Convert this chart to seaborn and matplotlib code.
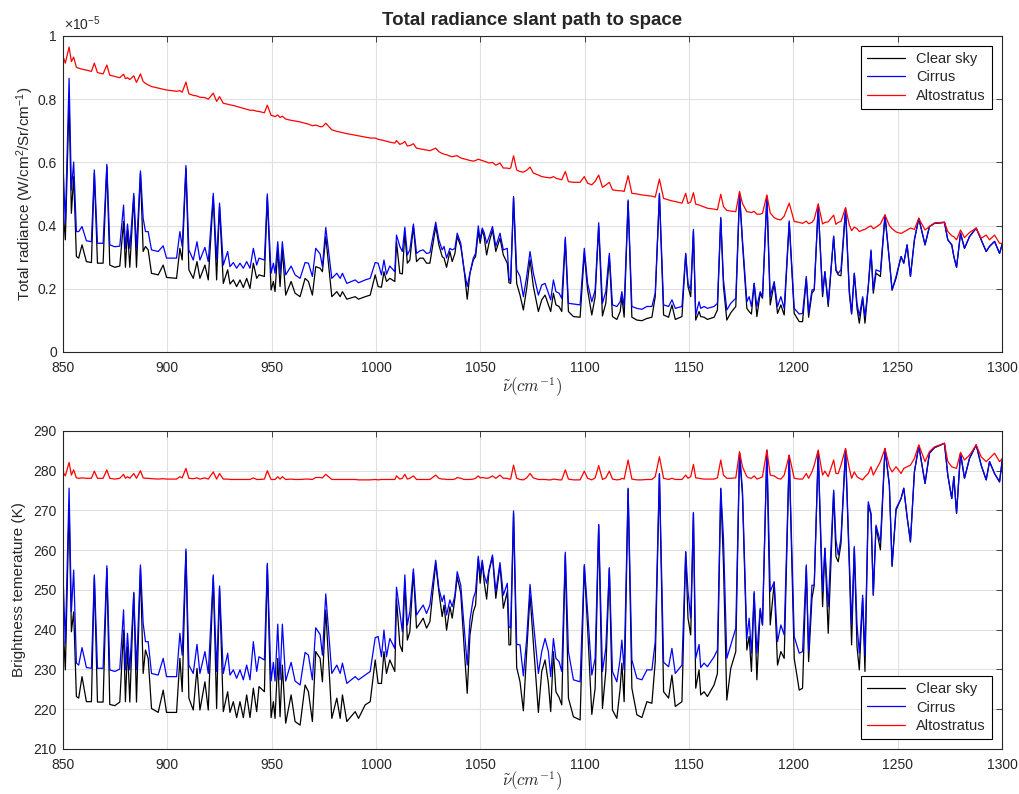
import matplotlib
matplotlib.use("Agg")
import matplotlib.pyplot as plt
import matplotlib.ticker as mticker
import pandas as pd
import seaborn as sns

# wavenumber grid (cm^-1), shared by both panels
nu = [
    850.0, 851.1, 852.9, 854.0, 855.1, 856.4, 857.5, 859.1, 861.2, 863.6,
    865.0, 866.5, 869.2, 871.0, 872.4, 874.8, 877.2, 879.0, 879.9, 880.9,
    882.0, 883.9, 885.2, 887.1, 888.4, 889.5, 890.8, 892.4, 895.6, 898.0,
    899.6, 904.4, 906.0, 907.1, 908.9, 910.3, 912.4, 914.2, 915.6, 918.0,
    919.6, 922.0, 923.6, 925.0, 926.8, 928.9, 930.0, 931.6, 933.2, 934.8,
    936.4, 938.0, 939.6, 941.2, 942.8, 943.9, 946.5, 947.9, 949.7, 950.8,
    951.6, 952.9, 954.0, 955.1, 956.7, 959.3, 961.2, 963.6, 966.0, 967.6,
    969.5, 971.1, 973.2, 974.3, 975.9, 978.8, 981.2, 982.8, 983.9, 986.0,
    990.0, 991.6, 994.8, 997.2, 999.6,
    1001.0, 1002.6, 1003.8, 1005.0, 1006.6, 1009.0, 1009.8, 1011.4, 1012.6, 1013.8,
    1015.0, 1016.2, 1017.9, 1019.4, 1021.0, 1022.6, 1024.2, 1025.8, 1028.6, 1030.1,
    1031.7, 1032.6, 1033.8, 1035.4, 1036.5, 1037.8, 1038.9, 1040.6, 1042.2, 1043.7,
    1045.0, 1046.6, 1047.7, 1049.0, 1049.9, 1050.9, 1051.8, 1053.0, 1054.1, 1055.8,
    1057.4, 1059.4, 1061.0, 1062.9, 1063.7, 1064.5, 1065.9, 1067.4, 1069.0, 1070.6,
    1072.2, 1073.8, 1075.4, 1077.8, 1079.4, 1081.0, 1082.6, 1083.7, 1085.0, 1086.2,
    1087.7, 1089.0, 1090.7, 1092.2, 1094.6, 1097.8, 1099.8, 1101.4, 1103.4, 1105.0,
    1106.7, 1108.5, 1110.1, 1111.8, 1113.3, 1115.4, 1117.0, 1117.8, 1118.9, 1120.8,
    1122.6, 1125.0, 1127.4, 1129.8, 1132.2, 1133.8, 1135.8, 1137.8, 1140.2, 1141.8,
    1143.4, 1146.6,
    1148.4, 1149.5, 1150.8, 1152.1, 1153.2, 1154.8, 1155.6, 1157.2, 1158.8, 1162.0,
    1163.6, 1165.2, 1166.5, 1168.1, 1170.0, 1172.4, 1174.2, 1175.6, 1177.7, 1178.8,
    1179.9, 1181.2, 1182.5, 1184.1, 1185.2, 1187.3, 1188.9, 1190.8, 1192.4, 1194.0,
    1195.6, 1198.0, 1200.4, 1202.8, 1204.4, 1206.2, 1207.3, 1208.9, 1210.0, 1211.9,
    1214.0, 1215.1, 1216.7, 1219.3, 1220.4, 1221.5, 1222.8, 1225.0, 1226.8, 1227.9,
    1229.2, 1230.5, 1231.6, 1233.2, 1234.3, 1235.9, 1237.2, 1238.3, 1239.6, 1241.7,
    1243.9, 1246.0, 1247.3, 1249.2, 1251.6, 1252.9, 1254.5, 1256.1, 1258.0, 1260.1,
    1263.1, 1265.2, 1267.6, 1272.4, 1274.0, 1275.9, 1276.9, 1278.2, 1280.1, 1282.0,
    1284.4, 1287.6, 1290.0, 1292.4, 1294.0, 1296.4, 1298.8, 1300.2,
]

# total radiance, in units of 1e-5 W/cm2/Sr/cm-1
rad_clear = [
    .450, .355, .800, .439, .555, .302, .297, .339, .286, .283,
    .566, .281, .281, .587, .275, .268, .272, .413, .268, .386,
    .268, .492, .268, .566, .318, .334, .323, .249, .244, .275,
    .236, .233, .328, .291, .581, .260, .233, .286, .233, .275,
    .228, .492, .228, .460, .217, .260, .215, .228, .207, .228,
    .204, .233, .201, .281, .233, .244, .239, .492, .196, .223,
    .191, .323, .207, .323, .180, .223, .186, .175, .233, .223,
    .180, .270, .265, .254, .365, .175, .191, .175, .191, .167,
    .175, .167, .175, .180, .244,
    .207, .205, .254, .223, .233, .223, .349, .249, .247, .376,
    .281, .291, .397, .286, .297, .297, .281, .281, .397, .339,
    .302, .297, .268, .318, .286, .312, .365, .334, .260, .167,
    .249, .291, .302, .381, .344, .386, .365, .307, .344, .386,
    .318, .360, .307, .281, .219, .217, .487, .217, .180, .133,
    .202, .292, .207, .128, .165, .180, .149, .128, .186, .149,
    .144, .128, .355, .128, .112, .110, .312, .196, .117, .175,
    .397, .114, .154, .302, .112, .103, .128, .175, .110, .476,
    .110, .101, .099, .106, .110, .175, .497, .117, .110, .149,
    .103, .112,
    .310, .207, .175, .381, .101, .128, .112, .110, .103, .110,
    .133, .423, .207, .101, .124, .144, .500, .344, .138, .128,
    .120, .217, .112, .186, .170, .490, .149, .217, .122, .149,
    .117, .410, .122, .096, .096, .233, .110, .186, .196, .460,
    .175, .254, .144, .365, .258, .244, .241, .450, .186, .120,
    .249, .138, .091, .170, .091, .207, .318, .186, .249, .239,
    .431, .289, .196, .233, .302, .281, .339, .239, .355, .423,
    .339, .397, .407, .410, .355, .339, .302, .268, .376, .328,
    .365, .392, .355, .318, .334, .350, .312, .344,
]
rad_cirrus = [
    .597, .407, .866, .513, .601, .381, .381, .397, .352, .349,
    .576, .344, .344, .594, .339, .333, .335, .465, .328, .405,
    .328, .502, .328, .573, .423, .381, .381, .323, .318, .336,
    .297, .297, .381, .334, .590, .323, .291, .349, .291, .331,
    .286, .502, .291, .471, .275, .318, .270, .283, .265, .281,
    .265, .286, .265, .328, .275, .297, .291, .500, .249, .281,
    .249, .349, .249, .349, .244, .272, .244, .233, .283, .281,
    .239, .328, .310, .270, .394, .233, .249, .233, .249, .217,
    .228, .219, .228, .233, .283,
    .281, .244, .291, .246, .272, .254, .370, .334, .318, .395,
    .307, .323, .405, .312, .320, .323, .312, .314, .411, .355,
    .323, .334, .297, .328, .323, .328, .376, .344, .260, .207,
    .249, .297, .312, .399, .355, .392, .378, .344, .363, .397,
    .334, .376, .323, .328, .233, .223, .492, .260, .239, .175,
    .239, .318, .249, .180, .212, .217, .186, .165, .228, .191,
    .186, .170, .363, .154, .152, .149, .328, .217, .159, .196,
    .409, .154, .191, .312, .149, .144, .159, .191, .144, .481,
    .144, .138, .135, .144, .144, .186, .502, .149, .144, .165,
    .138, .144,
    .312, .217, .196, .388, .117, .159, .138, .144, .138, .144,
    .154, .426, .228, .133, .154, .170, .504, .355, .159, .175,
    .144, .217, .144, .191, .175, .494, .175, .223, .144, .175,
    .138, .415, .138, .120, .122, .239, .124, .196, .198, .465,
    .186, .254, .154, .367, .260, .249, .260, .455, .196, .122,
    .249, .154, .114, .175, .112, .207, .323, .196, .260, .254,
    .434, .291, .196, .239, .302, .281, .339, .239, .355, .423,
    .339, .397, .407, .410, .355, .339, .302, .268, .376, .328,
    .365, .392, .355, .318, .334, .350, .312, .344,
]
rad_alto = [
    .935, .914, .965, .919, .933, .901, .898, .895, .892, .888,
    .914, .884, .880, .908, .876, .872, .868, .879, .865, .868,
    .862, .874, .853, .880, .856, .850, .845, .840, .835, .831,
    .829, .825, .827, .822, .854, .817, .812, .810, .806, .805,
    .800, .819, .793, .808, .787, .784, .782, .780, .777, .774,
    .771, .768, .765, .765, .762, .761, .757, .781, .749, .747,
    .745, .750, .742, .746, .737, .733, .731, .728, .724, .721,
    .716, .718, .713, .713, .724, .703, .698, .696, .694, .691,
    .686, .684, .680, .677, .677,
    .673, .671, .669, .667, .664, .661, .669, .657, .660, .666,
    .652, .653, .659, .645, .643, .641, .639, .637, .645, .634,
    .628, .626, .624, .620, .618, .620, .621, .614, .611, .608,
    .606, .604, .606, .610, .608, .606, .604, .601, .598, .600,
    .591, .598, .582, .582, .580, .582, .621, .576, .571, .569,
    .575, .585, .566, .560, .555, .553, .552, .551, .555, .550,
    .547, .545, .571, .539, .537, .537, .555, .534, .529, .540,
    .560, .521, .528, .537, .513, .511, .510, .510, .508, .558,
    .502, .500, .497, .495, .493, .490, .547, .486, .481, .478,
    .476, .471,
    .502, .470, .475, .504, .468, .465, .463, .459, .455, .452,
    .450, .499, .460, .448, .446, .444, .508, .470, .444, .443,
    .441, .445, .436, .436, .439, .497, .440, .425, .420, .418,
    .430, .471, .413, .410, .407, .414, .406, .410, .420, .469,
    .405, .410, .412, .433, .404, .410, .413, .457, .402, .384,
    .395, .390, .381, .386, .388, .395, .399, .390, .395, .405,
    .434, .400, .390, .380, .375, .380, .386, .392, .388, .423,
    .386, .397, .408, .411, .381, .368, .365, .355, .386, .362,
    .378, .392, .360, .370, .355, .370, .344, .344,
]

# brightness temperature (K)
bt_clear = [
    241.2, 229.9, 271.4, 239.5, 244.5, 223.2, 222.8, 228.2, 221.9, 221.9,
    253.3, 221.8, 221.8, 255.4, 221.2, 220.9, 221.8, 239.9, 221.9, 235.7,
    221.8, 249.2, 221.8, 255.4, 229.0, 234.9, 232.8, 220.2, 219.2, 224.8,
    219.2, 219.2, 232.8, 224.4, 259.6, 222.8, 219.8, 230.3, 219.8, 226.9,
    219.8, 253.3, 220.2, 250.4, 219.4, 224.4, 219.2, 221.9, 217.9, 221.9,
    217.9, 223.6, 217.9, 225.3, 219.4, 225.7, 224.4, 256.3, 217.9, 221.9,
    217.7, 232.8, 218.1, 231.1, 216.5, 223.6, 216.9, 216.0, 226.1, 224.4,
    216.9, 234.5, 232.8, 226.9, 245.0, 217.7, 222.8, 217.7, 223.6, 216.9,
    219.4, 217.7, 221.1, 221.9, 232.4,
    226.5, 226.5, 234.5, 229.0, 232.4, 229.5, 247.9, 236.2, 234.5, 252.1,
    237.4, 239.5, 254.6, 240.4, 241.6, 242.9, 240.4, 242.0, 256.7, 249.6,
    243.3, 246.2, 239.9, 245.8, 242.9, 247.9, 253.3, 249.2, 235.7, 224.0,
    238.7, 244.5, 246.2, 258.0, 251.7, 257.1, 252.1, 247.7, 254.6, 258.4,
    247.9, 256.3, 245.4, 249.6, 236.2, 236.2, 269.3, 230.5, 226.9, 219.6,
    234.5, 248.7, 236.6, 219.2, 229.5, 232.4, 226.5, 219.4, 234.5, 224.4,
    223.0, 221.1, 258.8, 222.8, 218.1, 217.3, 255.9, 240.4, 218.7, 225.3,
    266.3, 220.2, 229.5, 255.4, 219.8, 217.7, 225.3, 231.6, 221.9, 275.4,
    225.3, 218.6, 217.9, 221.9, 221.5, 232.0, 279.2, 224.4, 222.8, 228.6,
    220.7, 221.9,
    259.6, 242.9, 238.7, 269.3, 225.3, 229.9, 223.6, 224.4, 223.2, 226.1,
    229.0, 275.4, 256.3, 222.3, 230.3, 234.5, 284.4, 273.9, 234.9, 238.3,
    229.5, 249.2, 227.4, 245.0, 241.2, 284.9, 241.2, 251.7, 231.1, 234.5,
    232.8, 283.8, 232.8, 224.8, 225.3, 255.9, 232.0, 247.9, 251.2, 284.8,
    245.8, 260.5, 239.1, 274.7, 258.4, 257.1, 261.7, 285.2, 255.9, 236.2,
    260.5, 235.7, 229.9, 247.9, 229.5, 271.4, 268.9, 248.7, 265.9, 260.1,
    285.4, 276.4, 255.9, 270.1, 273.0, 275.6, 268.4, 262.1, 279.7, 286.3,
    276.8, 284.4, 285.8, 286.9, 278.9, 273.0, 278.5, 269.3, 284.4, 278.1,
    283.1, 286.5, 281.4, 277.7, 282.3, 279.3, 277.2, 283.1,
]
bt_cirrus = [
    253.8, 236.6, 275.6, 244.5, 255.0, 231.6, 231.1, 235.5, 230.5, 230.3,
    253.8, 230.3, 230.3, 256.1, 229.9, 229.5, 230.1, 245.0, 229.9, 239.1,
    229.9, 249.4, 229.9, 256.3, 241.6, 237.0, 237.0, 229.0, 228.6, 232.8,
    228.2, 228.2, 239.1, 233.6, 260.3, 231.1, 229.0, 236.3, 229.0, 234.5,
    229.0, 253.8, 229.5, 251.0, 229.0, 234.1, 228.6, 229.9, 227.8, 229.9,
    227.4, 231.1, 227.4, 237.0, 229.5, 233.2, 232.4, 256.7, 227.1, 231.8,
    227.1, 241.4, 227.4, 241.4, 227.1, 231.8, 227.1, 226.1, 234.3, 233.6,
    227.4, 240.5, 238.8, 233.6, 249.0, 229.0, 231.1, 229.0, 231.6, 226.5,
    228.2, 227.4, 228.6, 229.5, 238.0,
    238.3, 233.2, 239.9, 233.2, 237.8, 235.3, 250.7, 244.5, 239.5, 253.8,
    241.2, 244.5, 255.3, 243.7, 245.0, 246.2, 244.1, 246.2, 257.5, 250.4,
    247.1, 248.7, 243.7, 247.5, 245.8, 248.7, 254.6, 251.2, 240.8, 231.1,
    242.4, 247.9, 249.6, 258.5, 253.8, 257.5, 253.8, 251.7, 255.0, 258.8,
    249.6, 256.9, 248.7, 251.7, 240.8, 240.4, 269.9, 236.3, 236.2, 228.4,
    237.8, 251.4, 242.0, 229.0, 234.5, 237.8, 234.5, 228.2, 237.8, 232.8,
    232.0, 229.5, 259.5, 234.5, 227.4, 226.9, 256.4, 244.5, 228.6, 232.8,
    266.5, 229.5, 235.3, 255.6, 229.5, 226.9, 232.8, 237.4, 229.9, 275.6,
    232.4, 227.8, 227.4, 229.9, 229.9, 237.0, 279.3, 231.8, 230.7, 235.3,
    229.0, 231.1,
    259.6, 249.6, 242.9, 269.5, 232.8, 236.3, 230.5, 231.6, 230.7, 233.2,
    234.9, 275.6, 263.0, 232.8, 236.2, 240.4, 284.4, 275.1, 237.8, 242.9,
    234.1, 249.6, 234.1, 245.4, 241.2, 285.2, 249.6, 252.1, 237.0, 241.2,
    238.7, 283.9, 238.3, 234.1, 234.5, 256.3, 234.5, 251.2, 251.2, 284.9,
    249.6, 260.5, 245.8, 275.1, 262.6, 258.8, 263.0, 285.4, 258.0, 241.2,
    260.9, 241.2, 234.1, 248.7, 233.6, 272.2, 269.3, 248.7, 266.3, 262.1,
    285.6, 276.4, 256.3, 270.5, 273.0, 275.6, 268.4, 262.1, 279.7, 286.3,
    276.8, 284.4, 285.8, 286.9, 278.9, 273.0, 278.5, 269.3, 284.4, 278.1,
    283.1, 286.5, 281.4, 277.7, 282.3, 279.3, 277.2, 283.1,
]
bt_alto = [
    279.7, 278.7, 282.1, 278.9, 280.2, 278.2, 278.1, 278.2, 278.1, 278.1,
    279.9, 278.1, 278.1, 280.2, 278.1, 277.9, 278.1, 279.1, 278.1, 278.5,
    278.1, 279.3, 278.1, 280.0, 278.2, 278.1, 278.1, 278.0, 277.9, 278.0,
    277.9, 277.9, 278.5, 278.2, 280.6, 278.1, 278.0, 278.2, 277.9, 278.2,
    277.9, 279.7, 277.9, 279.3, 277.9, 277.9, 277.8, 277.8, 277.8, 277.8,
    277.8, 277.8, 277.8, 278.2, 277.8, 277.8, 277.9, 280.0, 277.8, 277.8,
    277.8, 278.5, 277.9, 278.5, 277.8, 277.9, 277.8, 277.8, 277.9, 277.9,
    277.8, 278.3, 278.3, 278.2, 279.1, 277.8, 277.8, 277.8, 277.8, 277.8,
    277.8, 277.7, 277.7, 277.7, 277.8,
    277.7, 277.8, 277.8, 277.8, 277.8, 277.8, 278.7, 277.9, 278.1, 279.1,
    277.9, 278.1, 278.7, 277.8, 277.8, 277.8, 277.8, 277.8, 278.9, 278.1,
    277.9, 277.9, 277.8, 277.8, 277.8, 277.9, 278.3, 278.1, 277.8, 277.8,
    277.8, 277.9, 278.1, 278.7, 278.2, 278.3, 278.2, 278.1, 278.2, 278.7,
    278.1, 278.9, 278.1, 278.1, 277.9, 277.9, 281.4, 278.1, 277.8, 277.7,
    278.2, 279.3, 278.2, 277.8, 277.8, 277.8, 277.7, 277.7, 277.9, 277.8,
    277.7, 277.7, 280.2, 277.9, 277.7, 277.7, 279.9, 278.1, 277.7, 278.2,
    281.3, 277.8, 278.2, 279.9, 277.9, 277.7, 277.8, 278.1, 277.9, 282.7,
    277.9, 277.7, 277.7, 277.8, 277.8, 278.5, 283.5, 278.1, 277.8, 278.1,
    277.8, 277.8,
    278.9, 278.1, 278.5, 281.6, 278.2, 278.1, 278.0, 277.9, 277.9, 277.9,
    278.2, 282.7, 278.9, 278.1, 278.1, 278.2, 284.8, 281.0, 278.5, 278.2,
    278.1, 278.7, 277.9, 278.2, 278.5, 285.2, 278.9, 278.7, 278.1, 277.9,
    278.9, 283.9, 278.1, 277.9, 277.9, 279.3, 278.1, 279.7, 281.4, 285.2,
    278.9, 279.9, 278.5, 282.7, 279.3, 279.3, 281.4, 285.6, 280.6, 278.1,
    279.7, 278.5, 278.1, 277.7, 278.5, 279.3, 281.0, 278.9, 280.2, 282.3,
    285.6, 281.0, 279.7, 281.0, 279.3, 280.6, 281.0, 281.4, 283.1, 286.5,
    282.3, 284.8, 286.0, 286.9, 282.3, 281.0, 280.8, 280.6, 284.6, 282.7,
    283.9, 286.5, 283.5, 282.3, 283.1, 284.4, 282.3, 283.1,
]

case_names = ["Clear sky", "Cirrus", "Altostratus"]
case_colors = {"Clear sky": "black", "Cirrus": "blue", "Altostratus": "red"}


def long_frame(columns):
    parts = []
    for name, vals in zip(case_names, columns):
        assert len(vals) == len(nu), (name, len(vals), len(nu))
        parts.append(pd.DataFrame({"nu": nu, "value": vals, "case": name}))
    return pd.concat(parts, ignore_index=True)


rad_df = long_frame([rad_clear, rad_cirrus, rad_alto])
bt_df = long_frame([bt_clear, bt_cirrus, bt_alto])

sns.set_theme(style="white")
plt.rcParams["font.family"] = ["Liberation Sans", "DejaVu Sans"]
plt.rcParams["mathtext.fontset"] = "custom"
plt.rcParams["mathtext.rm"] = "Liberation Sans"
plt.rcParams["mathtext.it"] = "Liberation Sans:italic"

fig = plt.figure(figsize=(10.2, 7.94), dpi=100)
ax1 = fig.add_axes([0.0618, 0.5567, 0.9206, 0.398])
ax2 = fig.add_axes([0.0618, 0.0567, 0.9206, 0.4005])

for ax, df in [(ax1, rad_df), (ax2, bt_df)]:
    sns.lineplot(data=df, x="nu", y="value", hue="case", palette=case_colors,
                 estimator=None, sort=False, linewidth=0.9, ax=ax)
    ax.set_xlim(850, 1300)
    ax.set_xticks(range(850, 1301, 50))
    ax.grid(True, color="#e0e0e0", linewidth=0.8)
    ax.set_axisbelow(True)
    ax.tick_params(direction="in", top=True, right=True, length=4,
                   labelsize=10, colors="#262626", width=0.6)
    ax.tick_params(axis="x", pad=6.5)
    ax.tick_params(axis="y", pad=4.5)
    for sp in ax.spines.values():
        sp.set_color("#262626")
        sp.set_linewidth(0.8)
    ax.set_xlabel(r"$\tilde{\nu}(cm^{-1})$", fontsize=12, math_fontfamily="cm")
    leg_loc = "upper right" if ax is ax1 else "lower right"
    leg = ax.legend(loc=leg_loc, fancybox=False, edgecolor="black",
                    fontsize=10.5, borderaxespad=0.7, handlelength=2.6,
                    labelspacing=0.3, framealpha=1)
    leg.get_frame().set_linewidth(0.8)

ax1.xaxis.set_label_coords(0.5, -0.076)
ax2.xaxis.set_label_coords(0.5, -0.064)

ax1.set_ylim(0, 1)
ax1.set_yticks([0, 0.2, 0.4, 0.6, 0.8, 1.0])
ax1.yaxis.set_major_formatter(mticker.FormatStrFormatter("%g"))
ax1.set_ylabel(r"Total radiance (W/cm$^{2}$/Sr/cm$^{-1}$)", fontsize=11)
ax1.yaxis.set_label_coords(-0.029, 0.5)
ax1.text(0.001, 1.008, r"$\times$10$^{-5}$", transform=ax1.transAxes,
         fontsize=10, va="bottom", ha="left", color="#262626")
ax1.set_title("Total radiance slant path to space", fontsize=13.5,
              fontweight="bold", pad=8)

ax2.set_ylim(210, 290)
ax2.set_yticks(range(210, 291, 10))
ax2.set_ylabel("Brightness temerature (K)", fontsize=11)
ax2.yaxis.set_label_coords(-0.039, 0.5)

fig.savefig("out.png", dpi=100)
